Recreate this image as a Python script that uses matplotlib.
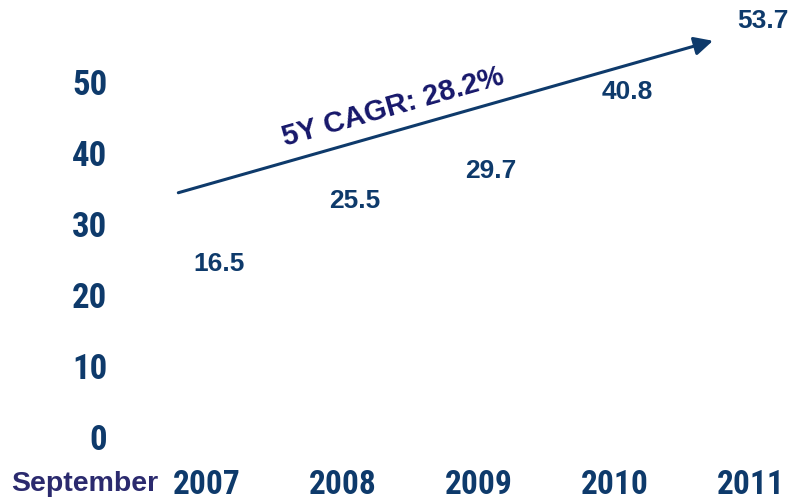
import matplotlib.pyplot as plt

# data
years = ['2007', '2008', '2009', '2010', '2011']
values = [16.5, 25.5, 29.7, 40.8, 53.7]
yticks = [0, 10, 20, 30, 40, 50]
cagr_label = '5Y CAGR: 28.2%'

navy = '#0E3A6B'
dark = '#16176A'
purple = '#2B2A6E'
narrow = ['Roboto Condensed', 'Liberation Sans Narrow', 'DejaVu Sans']
arial = ['Liberation Sans', 'DejaVu Sans']

fig = plt.figure(figsize=(7.95, 5.03), dpi=100)
ax = fig.add_axes([0.149, 0.1312, 0.847, 0.847])

x = list(range(len(years)))
ax.bar(x, values, width=0.6, color='white')
ax.set_xlim(-0.65, 4.3)
ax.set_ylim(0, 60)

# value labels above the (invisible) bars
for xi, v in zip(x, values):
    ax.text(xi + 0.09, min(v + 7.8, 58.6), f'{v:.1f}', ha='center', va='center',
            fontsize=19, fontweight='bold', color=navy, family=arial)

ax.set_yticks(yticks)
ax.set_yticklabels([str(t) for t in yticks], fontsize=25, fontweight='bold',
                   color=navy, family=narrow)
ax.set_xticks(x)
ax.set_xticklabels(years, fontsize=24, fontweight='bold', color=navy,
                   family=narrow)
ax.tick_params(axis='y', length=0, pad=8)
ax.tick_params(axis='x', length=0, pad=23)
for s in ax.spines.values():
    s.set_visible(False)

fig.text(0.107, 0.038, 'September', ha='center', va='center', fontsize=20.5,
         fontweight='bold', color=purple, family=arial)

# CAGR arrow
ax.annotate('', xy=(3.72, 55.8), xytext=(-0.21, 34.4),
            arrowprops=dict(arrowstyle='-|>', color=navy, lw=2.2,
                            mutation_scale=28, shrinkA=0, shrinkB=0))
ax.text(1.37, 46.5, cagr_label, rotation=15.8, ha='center', va='center',
        fontsize=21, fontweight='bold', color=dark, family=arial,
        rotation_mode='anchor')

fig.savefig('out.png', dpi=100)
